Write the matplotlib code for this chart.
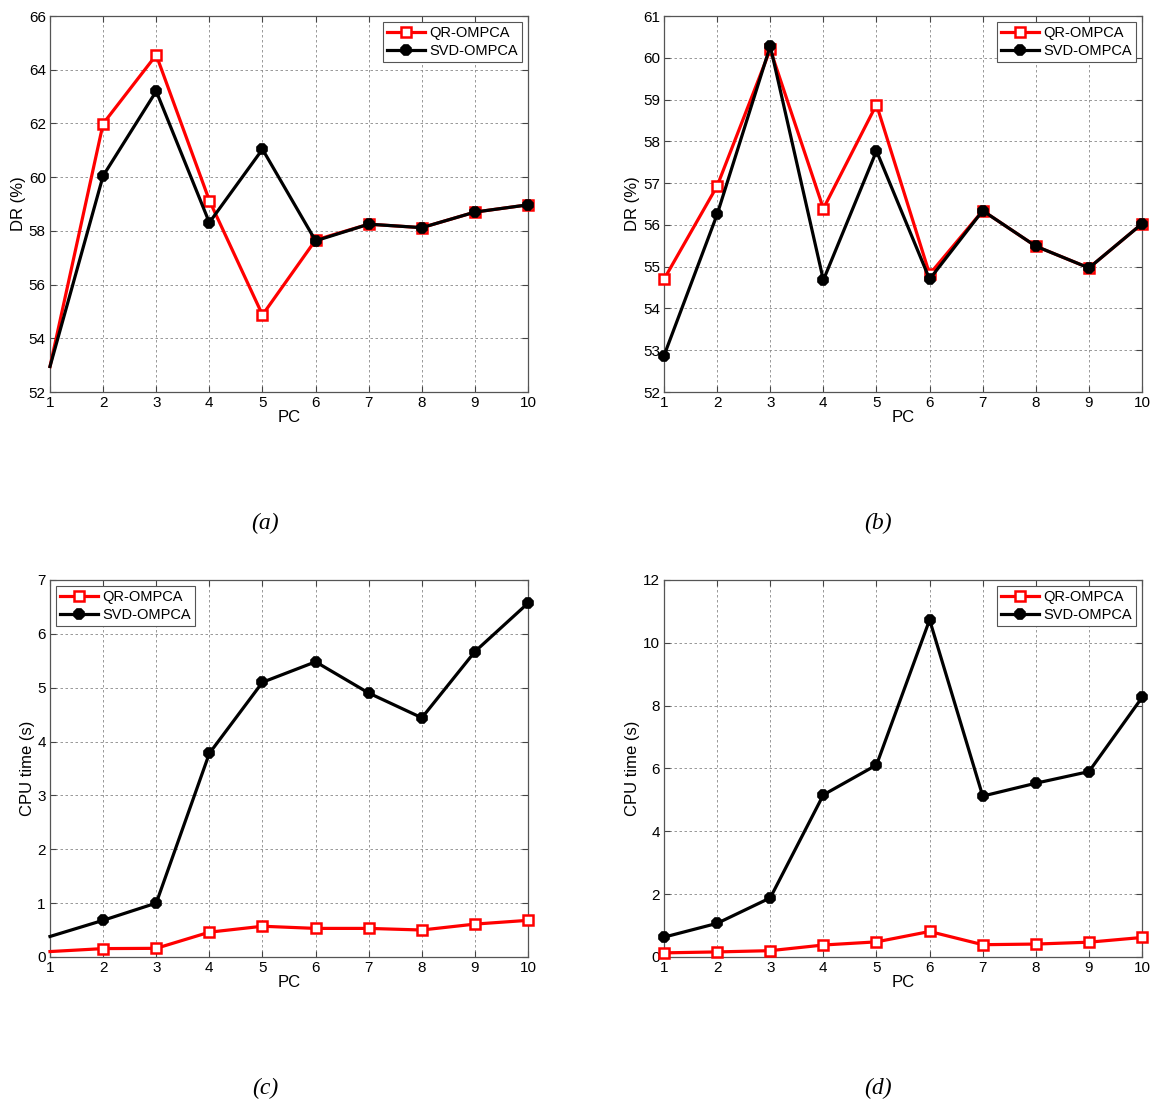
import matplotlib
matplotlib.use("Agg")
import matplotlib.pyplot as plt

plt.rcParams["font.family"] = ["Liberation Sans", "DejaVu Sans"]

PC = [1, 2, 3, 4, 5, 6, 7, 8, 9, 10]

# (a) detection rate
DR_A_QR = [52.95, 61.99, 64.55, 59.13, 54.87, 57.66, 58.25, 58.12, 58.70, 58.97]
DR_A_SVD = [52.95, 60.05, 63.20, 58.31, 61.04, 57.63, 58.25, 58.12, 58.70, 58.97]

# (b) detection rate
DR_B_QR = [54.70, 56.93, 60.20, 56.39, 58.88, 54.82, 56.34, 55.49, 54.97, 56.03]
DR_B_SVD = [52.87, 56.25, 60.28, 54.68, 57.77, 54.70, 56.34, 55.49, 54.97, 56.03]

# (c) CPU time
CPU_C_QR = [0.10, 0.155, 0.16, 0.46, 0.57, 0.53, 0.53, 0.50, 0.61, 0.68]
CPU_C_SVD = [0.38, 0.68, 1.00, 3.78, 5.10, 5.48, 4.90, 4.44, 5.67, 6.57]

# (d) CPU time
CPU_D_QR = [0.13, 0.16, 0.20, 0.38, 0.48, 0.81, 0.39, 0.41, 0.47, 0.62]
CPU_D_SVD = [0.63, 1.07, 1.88, 5.16, 6.11, 10.73, 5.12, 5.53, 5.90, 8.26]

PANELS = [
    ("(a)", DR_A_QR, DR_A_SVD, "DR (%)", (52, 66), 2, "upper right", True),
    ("(b)", DR_B_QR, DR_B_SVD, "DR (%)", (52, 61), 1, "upper right", False),
    ("(c)", CPU_C_QR, CPU_C_SVD, "CPU time (s)", (0, 7), 1, "upper left", True),
    ("(d)", CPU_D_QR, CPU_D_SVD, "CPU time (s)", (0, 12), 2, "upper right", False),
]

AX_RECTS = [
    (0.0434, 0.6449, 0.415, 0.3406),
    (0.5764, 0.6449, 0.415, 0.3406),
    (0.0434, 0.1332, 0.415, 0.3415),
    (0.5764, 0.1332, 0.415, 0.3415),
]
TAG_POS = [(0.230, 0.526), (0.762, 0.526), (0.230, 0.0145), (0.762, 0.0145)]

fig = plt.figure(figsize=(11.52, 11.04), dpi=100)

for rect, tag_pos, panel in zip(AX_RECTS, TAG_POS, PANELS):
    tag, qr, svd, ylabel, ylim, ystep, legloc, skip_first = panel
    ax = fig.add_axes(rect)
    marks = list(range(1, len(PC))) if skip_first else None

    ax.plot(PC, qr, color="red", lw=2.3, marker="s", ms=7,
            mfc="white", mec="red", mew=1.8, markevery=marks,
            label="QR-OMPCA", clip_on=False, zorder=3)
    ax.plot(PC, svd, color="black", lw=2.3, marker="8", ms=7.5,
            mfc="black", mec="black", mew=1.2, markevery=marks,
            label="SVD-OMPCA", clip_on=False, zorder=4)

    ax.set_xlim(1, 10)
    ax.set_ylim(*ylim)
    ax.set_xticks(PC)
    ax.set_yticks(range(ylim[0], ylim[1] + 1, ystep))
    ax.grid(True, color="#888888", ls=(0, (3, 3)), lw=0.6)
    ax.tick_params(direction="in", top=True, right=True, labelsize=11,
                   length=4, width=0.8, color="#444444", pad=3)
    for sp in ax.spines.values():
        sp.set_color("#555555")
        sp.set_linewidth(0.9)
    ax.set_xlabel("PC", fontsize=12, labelpad=0)
    ax.set_ylabel(ylabel, fontsize=12, labelpad=2)

    leg = ax.legend(loc=legloc, fontsize=10.5, fancybox=False,
                    handlelength=2.6, borderpad=0.3, labelspacing=0.25,
                    handletextpad=0.3, borderaxespad=0.4, framealpha=1)
    leg.get_frame().set_edgecolor("#555555")
    leg.get_frame().set_linewidth(0.8)

    fig.text(tag_pos[0], tag_pos[1], tag, ha="center", va="center",
             fontsize=17, style="italic",
             family=["Liberation Serif", "DejaVu Serif"])

fig.savefig("out.png", dpi=100)
